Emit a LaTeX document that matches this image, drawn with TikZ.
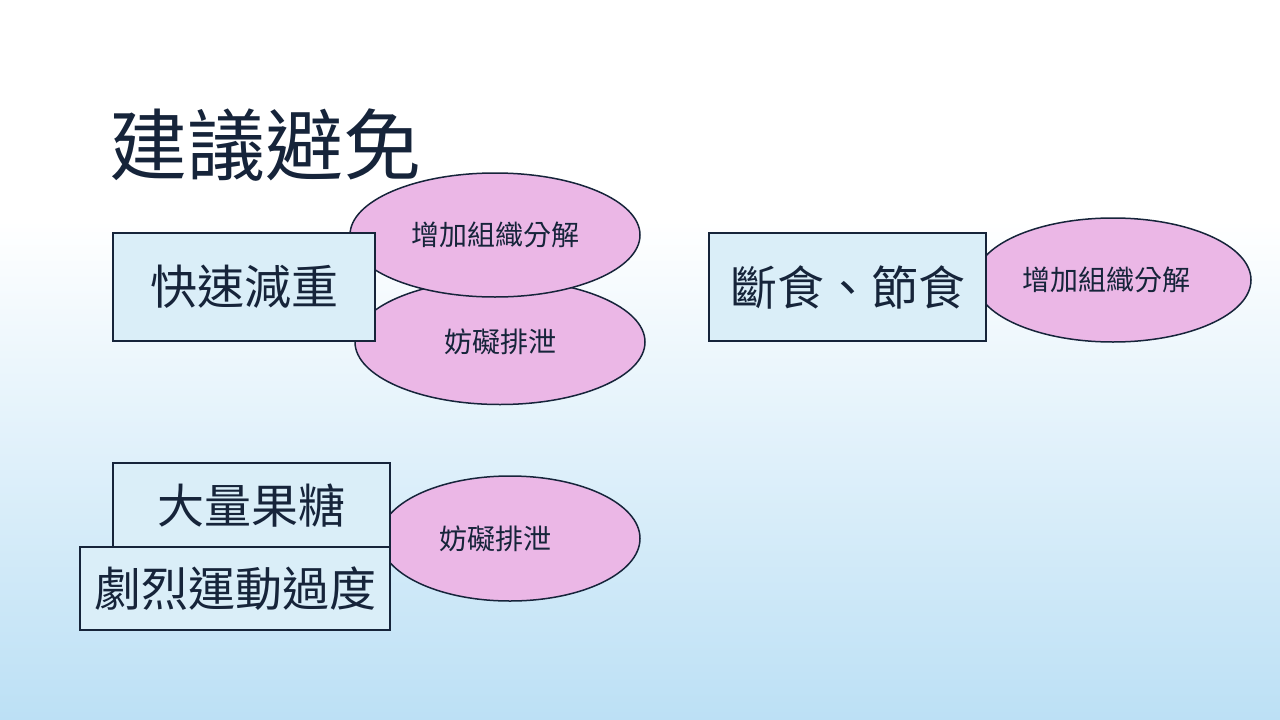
\documentclass[tikz,border=0pt]{standalone}
\usepackage{fontspec}
\newfontfamily\cjk{Noto Sans CJK TC}
\usetikzlibrary{shapes.geometric}
\definecolor{bgblue}{RGB}{188,224,245}
\definecolor{boxfill}{RGB}{218,238,248}
\definecolor{ovalfill}{RGB}{235,183,230}
\definecolor{ink}{RGB}{22,36,58}
\begin{document}
\begin{tikzpicture}[x=1pt,y=-1pt,
	box/.style={draw=ink,fill=boxfill,line width=1.5pt,text=ink,font=\cjk\fontsize{47}{50}\selectfont,inner sep=0pt},
	oval/.style={ellipse,draw=ink,fill=ovalfill,line width=1.5pt,text=ink,font=\cjk\fontsize{28}{30}\selectfont,inner sep=0pt}]
	\useasboundingbox (0,0) rectangle (1280,720);
	\fill[white] (0,0) rectangle (1280,220);
	\shade[top color=white,bottom color=bgblue] (0,220) rectangle (1280,720);
	\node[text=ink,font=\cjk\fontsize{78}{80}\selectfont] (title) at (265,145) {建議避免};
	% top left group
	\node[oval,minimum width=290,minimum height=125] (hinder1) at (500,342) {妨礙排泄};
	\node[oval,minimum width=290,minimum height=124] (break1) at (495,235) {增加組織分解};
	\node[box,minimum width=262,minimum height=108] (fast) at (244,287) {快速減重};
	% right group
	\node[oval,minimum width=276,minimum height=124] (break2) at (1113,280) {\hspace*{-14pt}增加組織分解};
	\node[box,minimum width=277,minimum height=108] (fasting) at (847.5,287) {斷食、節食};
	% bottom group
	\node[oval,minimum width=260,minimum height=125] (hinder2) at (510,538.5) {\hspace*{-30pt}妨礙排泄};
	\node[box,minimum width=277,minimum height=85] (sugar) at (251.5,505.5) {大量果糖};
	\node[box,minimum width=310,minimum height=83] (sport) at (235,588.5) {劇烈運動過度};
\end{tikzpicture}
\end{document}
